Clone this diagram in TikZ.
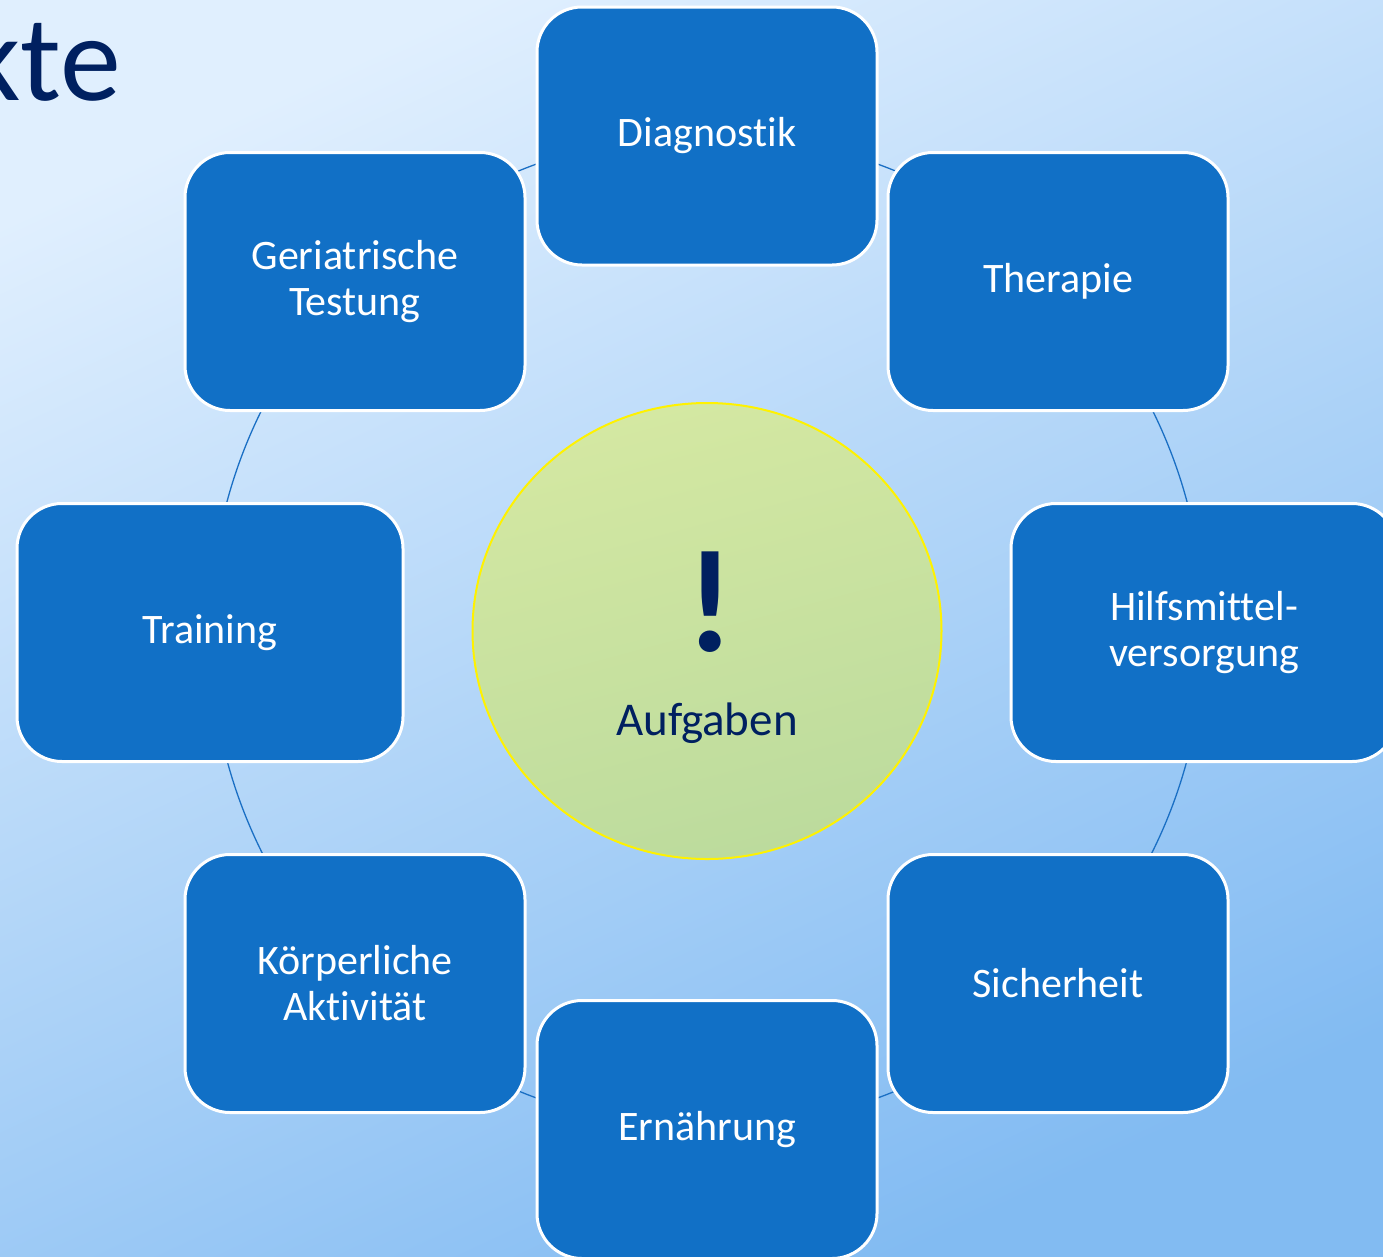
\documentclass[tikz,border=0pt]{standalone}
\usepackage{fontspec}
\setmainfont{Carlito}[Ligatures={NoCommon}]
\usetikzlibrary{shapes.geometric}
\definecolor{bgtop}{HTML}{E0EFFE}
\definecolor{bgbot}{HTML}{82BBF2}
\definecolor{boxblue}{HTML}{1170C6}
\definecolor{navy}{HTML}{002060}
\definecolor{greentop}{HTML}{D4E8A2}
\definecolor{greenbot}{HTML}{BCDB9D}
\definecolor{ringblue}{HTML}{1A6FC4}
\begin{document}
\begin{tikzpicture}[x=1pt,y=-1pt,
  taskbox/.style={draw=white, line width=3pt, fill=boxblue, rounded corners=45pt,
    minimum width=340pt, minimum height=258pt, inner sep=0pt, text=white,
    align=center, font=\fontsize{42}{46}\selectfont},
  widebox/.style={taskbox, minimum width=386pt},
  ring/.style={draw=ringblue, line width=1.3pt}
]
\useasboundingbox (0,0) rectangle (1383,1256);
\clip (0,0) rectangle (1383,1256);
\fill[top color=bgtop, bottom color=bgbot, shading angle=25] (-10,-10) rectangle (1393,1266);

% title fragment
\node[anchor=base east, inner sep=0pt, text=navy, font=\fontsize{122}{130}\selectfont] (title) at (121,100) {kte};

% centre
\coordinate (c) at (707,631);
\draw[ring] (c) circle [radius=497];

% boxes
\node[taskbox] (diag) at (707,136) {Diagnostik};
\node[taskbox] (ther) at (1058,281.5) {Therapie};
\node[widebox] (hilf) at (1204,632.5) {Hilfsmittel-\\versorgung};
\node[taskbox] (sich) at (1058,983.5) {Sicherheit};
\node[taskbox] (ernae) at (707,1129.5) {Ernährung};
\node[taskbox] (koerp) at (355,983.5) {Körperliche\\Aktivität};
\node[widebox] (train) at (210,632.5) {Training};
\node[taskbox] (geri) at (355,281.5) {Geriatrische\\Testung};

% central circle
\node[ellipse, draw=yellow, line width=2pt, top color=greentop, bottom color=greenbot,
  shading angle=15, minimum width=469pt, minimum height=456pt, inner sep=0pt] (centre) at (707,631) {};
\node[anchor=base, inner sep=0pt, text=navy, font=\bfseries\fontsize{146}{150}\selectfont] (excl) at (710,651) {!};
\node[anchor=base, inner sep=0pt, text=navy, font=\fontsize{47}{50}\selectfont] (aufg) at (707,735) {Aufgaben};
\end{tikzpicture}
\end{document}
